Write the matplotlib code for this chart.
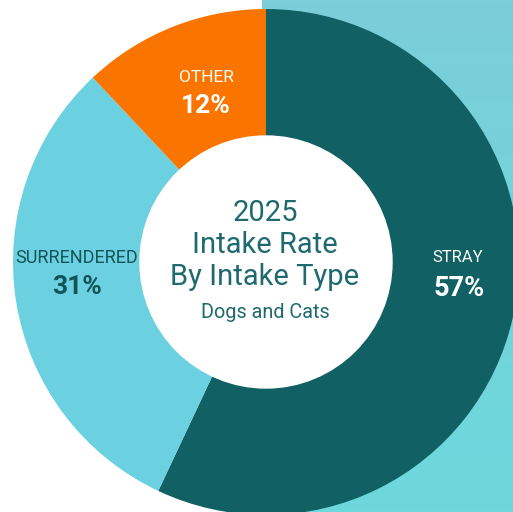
import numpy as np
import matplotlib
matplotlib.use('Agg')
import matplotlib.pyplot as plt
from matplotlib.colors import LinearSegmentedColormap

# data
labels = ["STRAY", "SURRENDERED", "OTHER"]
values = [57, 31, 12]
colors = ["#116064", "#6BD1E1", "#FA7500"]
label_colors = ["white", "#135458", "white"]
title_lines = ["2025", "Intake Rate", "By Intake Type"]
subtitle = "Dogs and Cats"

plt.rcParams['font.family'] = ['Roboto', 'DejaVu Sans']

fig = plt.figure(figsize=(5.13, 5.12), dpi=100)
ax = fig.add_axes([0, 0, 1, 1])

# teal panel behind the right half
grad = np.linspace(0, 1, 256).reshape(-1, 1)
cmap = LinearSegmentedColormap.from_list("bg", ["#7CCED8", "#74D3DA", "#6DD8DD"])
ax.imshow(grad, cmap=cmap, extent=[262, 513, 0, 512], aspect='auto', zorder=0)

cx, cy = 266, 250
R = 253
ax.pie(values, colors=colors, startangle=90, counterclock=False, radius=R,
       center=(cx, cy), wedgeprops=dict(width=128, linewidth=0), frame=True)
ax.add_patch(plt.Circle((cx, cy), R - 127, color='white', zorder=3))

# segment labels
ax.text(458, 512 - 258, labels[0], ha='center', va='center', fontsize=12, color=label_colors[0])
ax.text(459, 512 - 288, f"{values[0]}%", ha='center', va='center', fontsize=19.5,
        fontweight='bold', color=label_colors[0])
ax.text(77, 512 - 258, labels[1], ha='center', va='center', fontsize=13,
        color=label_colors[1])
ax.text(77, 512 - 287, f"{values[1]}%", ha='center', va='center', fontsize=19,
        fontweight='bold', color=label_colors[1])
ax.text(206, 512 - 78, labels[2], ha='center', va='center', fontsize=12.5, color=label_colors[2])
ax.text(206, 512 - 106, f"{values[2]}%", ha='center', va='center', fontsize=19,
        fontweight='bold', color=label_colors[2])

# center title
for y, line in zip([213, 245, 277], title_lines):
    ax.text(265, 512 - y, line, ha='center', va='center', fontsize=21, color="#1E6A6E", zorder=4)
ax.text(265, 512 - 312, subtitle, ha='center', va='center', fontsize=14.3, color="#1E6A6E",
        zorder=4)

ax.set_xlim(0, 513)
ax.set_ylim(0, 512)
ax.set_aspect('equal')
ax.axis('off')

fig.savefig("out.png", dpi=100)
